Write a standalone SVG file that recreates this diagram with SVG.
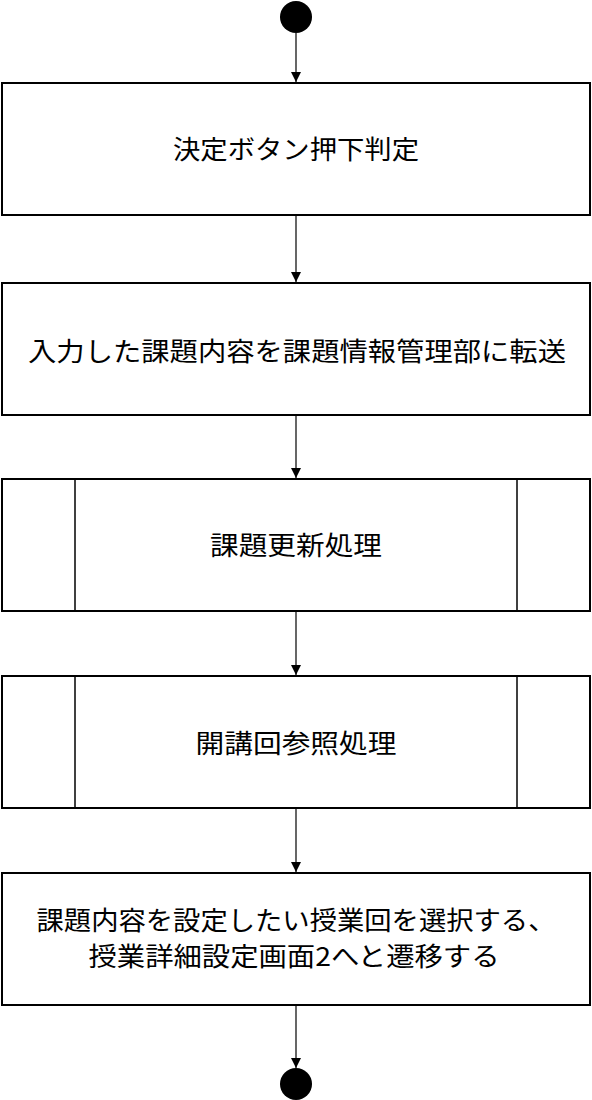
<svg xmlns="http://www.w3.org/2000/svg" width="592" height="1100" viewBox="0 0 592 1100">
<defs>
<style>
.box{fill:#fff;stroke:#000;stroke-width:2}
.inner{stroke:#000;stroke-width:1.5}
.t{font-family:"Noto Sans CJK JP","Noto Sans",sans-serif;font-size:26px;fill:#000;text-anchor:middle}
.c{stroke:#000;stroke-width:1.2;fill:none;marker-end:url(#ah)}
</style>
<marker id="ah" viewBox="0 0 10 10" refX="10" refY="5" markerWidth="10" markerHeight="10" markerUnits="userSpaceOnUse" orient="auto">
<path d="M0,0 L10,5 L0,10 Z" fill="#000"/>
</marker>
</defs>
<rect width="592" height="1100" fill="#fff"/>
<g id="connectors">
<line class="c" x1="296" y1="33" x2="296" y2="82"/>
<line class="c" x1="296" y1="216" x2="296" y2="282"/>
<line class="c" x1="296" y1="416" x2="296" y2="478"/>
<line class="c" x1="296" y1="612" x2="296" y2="675"/>
<line class="c" x1="296" y1="809" x2="296" y2="872"/>
<line class="c" x1="296" y1="1006" x2="296" y2="1068"/>
</g>
<g id="start"><circle cx="296" cy="17" r="16" fill="#000"/></g>
<g id="n1">
<rect class="box" x="2" y="83" width="588" height="132"/>
<text class="t" x="296" y="159" textLength="246" lengthAdjust="spacingAndGlyphs">決定ボタン押下判定</text>
</g>
<g id="n2">
<rect class="box" x="2" y="283" width="588" height="132"/>
<text class="t" x="297" y="361" textLength="538" lengthAdjust="spacingAndGlyphs">入力した課題内容を課題情報管理部に転送</text>
</g>
<g id="n3">
<rect class="box" x="2" y="479" width="588" height="132"/>
<line class="inner" x1="75" y1="479" x2="75" y2="611"/>
<line class="inner" x1="517" y1="479" x2="517" y2="611"/>
<text class="t" x="296" y="555" textLength="172" lengthAdjust="spacingAndGlyphs">課題更新処理</text>
</g>
<g id="n4">
<rect class="box" x="2" y="676" width="588" height="132"/>
<line class="inner" x1="75" y1="676" x2="75" y2="808"/>
<line class="inner" x1="517" y1="676" x2="517" y2="808"/>
<text class="t" x="296" y="753" textLength="201" lengthAdjust="spacingAndGlyphs">開講回参照処理</text>
</g>
<g id="n5">
<rect class="box" x="2" y="873" width="588" height="132"/>
<text class="t" x="296" y="930" textLength="519" lengthAdjust="spacingAndGlyphs">課題内容を設定したい授業回を選択する、</text>
<text class="t" x="294" y="966" textLength="411" lengthAdjust="spacingAndGlyphs">授業詳細設定画面2へと遷移する</text>
</g>
<g id="end"><circle cx="296" cy="1084" r="16" fill="#000"/></g>
</svg>
